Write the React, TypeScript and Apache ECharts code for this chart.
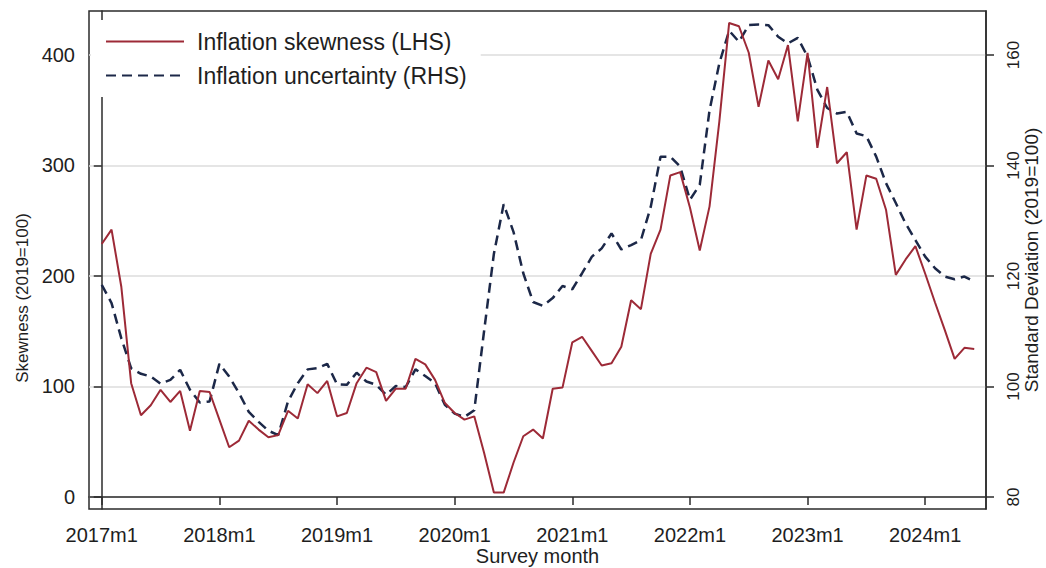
import React, { useEffect, useRef } from "react";
import * as echarts from "echarts";

// Month index 0 = 2017m1 ... 89 = 2024m6
const START_YEAR = 2017;
const tickMonths = [0, 12, 24, 36, 48, 60, 72, 84];
const leftTicks = [0, 100, 200, 300, 400];
const rightTicks = [80, 100, 120, 140, 160];

const skewness = [
  229, 242, 190, 103, 74, 83, 97, 86, 96, 60, 96, 95,
  70, 45, 51, 69, 61, 54, 56, 78, 71, 102, 94, 105,
  73, 76, 103, 117, 113, 87, 98, 98, 125, 120, 106, 85,
  76, 70, 73, 40, 4, 4, 31, 55, 61, 53, 98, 99,
  140, 145, 132, 119, 121, 136, 178, 170, 220, 242, 291, 294,
  262, 223, 263, 340, 429, 426, 402, 353, 395, 378, 409, 340,
  402, 316, 371, 302, 312, 242, 291, 288, 260, 201, 215, 227,
  202, 176, 151, 125, 135, 134,
];

const uncertainty = [
  118.4, 115.1, 108.7, 103.3, 102.3, 101.8, 100.5, 101.2, 103.0, 99.4, 97.1, 97.3,
  104.1, 101.8, 98.8, 95.4, 93.6, 92.0, 91.2, 97.3, 100.6, 103.1, 103.3, 104.1,
  100.4, 100.3, 102.5, 100.9, 100.3, 98.5, 100.1, 99.9, 103.1, 101.9, 100.6, 96.7,
  95.1, 94.5, 95.7, 110.0, 124.0, 133.0, 128.0, 120.5, 115.3, 114.6, 116.0, 118.2,
  117.6, 120.5, 123.5, 125.0, 127.7, 124.8, 125.6, 126.5, 132.5, 141.6, 141.6, 139.8,
  133.8, 136.5, 150.0, 158.5, 164.4, 162.4, 165.4, 165.5, 165.4, 163.3, 162.1, 163.1,
  159.7, 153.7, 150.4, 149.4, 149.7, 145.8, 145.3, 141.6, 136.8, 133.2, 129.5, 126.5,
  123.5, 121.4, 119.9, 119.4, 119.9, 119.0,
];

const FONT = "'Liberation Sans', Arial, Helvetica, sans-serif";
const TEXT = "#1e1e1e";

export default function App() {
  const ref = useRef<HTMLDivElement>(null);

  useEffect(() => {
    if (!ref.current) return;
    const chart = echarts.init(ref.current, undefined, { renderer: "svg" });
    const skewData = skewness.map((v, i) => [i, v]);
    const uncData = uncertainty.map((v, i) => [i, v]);

    chart.setOption({
      animation: false,
      backgroundColor: "#ffffff",
      textStyle: { fontFamily: FONT },
      grid: {
        left: 89,
        right: 60,
        top: 11,
        bottom: 59,
        containLabel: false,
        outerBoundsMode: "none",
        show: true,
        borderColor: "#2b2b2b",
        borderWidth: 1.5,
        backgroundColor: "#ffffff",
      },
      legend: {
        orient: "vertical",
        left: 91,
        top: 20,
        backgroundColor: "#ffffff",
        padding: [10, 14, 10, 14],
        itemWidth: 78,
        itemHeight: 14,
        itemGap: 11,
        itemStyle: { opacity: 0, color: "rgba(0,0,0,0)", borderWidth: 0 },
        textStyle: {
          fontFamily: FONT,
          fontSize: 23,
          color: TEXT,
          padding: [0, 0, 0, 8],
        },
        data: ["Inflation skewness (LHS)", "Inflation uncertainty (RHS)"],
      },
      xAxis: {
        type: "value",
        min: -1.3,
        max: 90.2,
        name: "Survey month",
        nameLocation: "middle",
        nameMoveOverlap: false,
        nameGap: 37,
        nameTextStyle: { fontFamily: FONT, fontSize: 20, color: TEXT },
        axisLine: { show: true, lineStyle: { color: "#2b2b2b", width: 1.5 } },
        axisTick: {
          show: true,
          length: 8,
          customValues: tickMonths,
          lineStyle: { color: "#2b2b2b", width: 1.5 },
        },
        axisLabel: {
          customValues: tickMonths,
          fontFamily: FONT,
          fontSize: 20,
          color: TEXT,
          margin: 16,
          formatter: (v: number) => `${START_YEAR + Math.round(v / 12)}m1`,
        },
        splitLine: { show: false },
      },
      yAxis: [
        {
          type: "value",
          position: "left",
          min: -10.86,
          max: 439.8,
          name: "Skewness (2019=100)",
          nameLocation: "middle",
          nameMoveOverlap: false,
          nameRotate: 90,
          nameGap: 58,
          nameTextStyle: {
            fontFamily: FONT,
            fontSize: 17,
            color: TEXT,
            padding: [0, 76, 0, 0],
          },
          axisLine: { show: true, lineStyle: { color: "#2b2b2b", width: 1.5 } },
          axisTick: {
            show: true,
            length: 8,
            customValues: leftTicks,
            lineStyle: { color: "#2b2b2b", width: 1.5 },
          },
          axisLabel: {
            customValues: leftTicks,
            fontFamily: FONT,
            fontSize: 20,
            color: TEXT,
            margin: 14,
          },
          splitLine: {
            show: true,
            lineStyle: { color: "#dcdcdc", width: 1.5 },
          },
        },
        {
          type: "value",
          position: "right",
          min: 77.83,
          max: 167.96,
          name: "Standard Deviation (2019=100)",
          nameLocation: "middle",
          nameMoveOverlap: false,
          nameRotate: 90,
          nameGap: 36,
          nameTextStyle: { fontFamily: FONT, fontSize: 19, color: TEXT },
          axisLine: { show: true, lineStyle: { color: "#2b2b2b", width: 1.5 } },
          axisTick: {
            show: true,
            length: 8,
            customValues: rightTicks,
            lineStyle: { color: "#2b2b2b", width: 1.5 },
          },
          axisLabel: { show: false, customValues: rightTicks },
          splitLine: { show: false },
        },
      ],
      series: [
        {
          name: "Inflation skewness (LHS)",
          type: "line",
          yAxisIndex: 0,
          data: skewData,
          symbol: "none",
          showSymbol: false,
          lineStyle: { color: "#9d2a37", width: 2 },
          itemStyle: { color: "#9d2a37" },
          z: 3,
        },
        {
          name: "Inflation uncertainty (RHS)",
          type: "line",
          yAxisIndex: 1,
          data: uncData,
          symbol: "none",
          showSymbol: false,
          lineStyle: { color: "#1c2848", width: 2.5, type: [10, 6] },
          itemStyle: { color: "#1c2848" },
          z: 2,
        },
      ],
    });

    // Rotated right-axis tick labels, placed through the axis scale.
    const rightEdge = chart.getWidth() - 60;
    const labels = rightTicks.map((v) => {
      const y = chart.convertToPixel({ yAxisIndex: 1 }, v) as number;
      return {
        type: "text",
        x: rightEdge + 27,
        y,
        rotation: Math.PI / 2,
        silent: true,
        style: {
          text: String(v),
          fontFamily: FONT,
          fontSize: 17,
          fill: TEXT,
          align: "center",
          verticalAlign: "middle",
        },
      };
    });
    chart.setOption({ graphic: labels });

    return () => chart.dispose();
  }, []);

  return (
    <div
      ref={ref}
      style={{ position: "fixed", left: 0, top: 0, width: 1046, height: 568 }}
    />
  );
}
